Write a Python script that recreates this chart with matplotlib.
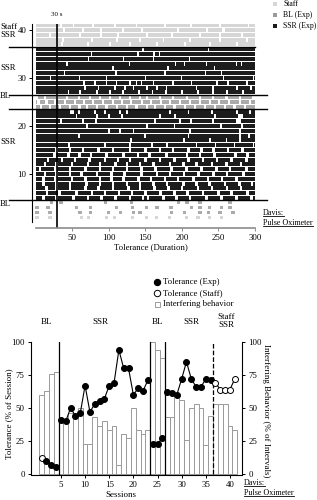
import matplotlib
matplotlib.use('Agg')
import matplotlib.pyplot as plt
from matplotlib.lines import Line2D
from matplotlib.patches import Rectangle

plt.rcParams['font.family'] = ['Liberation Serif', 'DejaVu Serif']
plt.rcParams['font.size'] = 6.3

# ---- data -------------------------------------------------------------
sessions = list(range(1, 42))
phase = ['staff'] + ['bl'] * 3 + ['ssr'] * 19 + ['bl'] * 3 + ['ssr'] * 10 + ['staff'] * 5

tolerance = [12, 10, 7, 5,
             41, 40, 50, 44, 46, 67, 47, 53, 55, 57, 67, 69, 94, 80, 80, 60, 65, 63, 71,
             23, 23, 27,
             62, 61, 60, 72, 85, 72, 66, 66, 72, 71,
             69, 64, 64, 64, 72]
interfering = [60, 63, 76, 77,
               40, 40, 46, 44, 50, 23, 23, 43, 36, 40, 33, 36, 7, 30, 27, 50, 33, 30, 33,
               100, 94, 88,
               43, 43, 58, 56, 26, 50, 53, 50, 22, 44,
               53, 53, 53, 36, 33]

# tolerance rasters: gap centres (s) in the full rows, default width per row
row_gaps = {
    5: [11, 29, 52, 72, 90, 109, 129, 147, 154, 175, 193, 211, 234, 254, 275, 295],
    6: [16, 33, 56, 77, 95, 114, 132, 150, 171, 190, 208, 229, 250, 268, 290],
    7: [15, 29, 47, 68, 86, 106, 127, 143, 163, 182, 200, 222, 241, 262, 281],
    8: [11, 29, 47, 70, 88, 106, 125, 143, 161, 180, 202, 220, 238, 259, 279, 296],
    9: [11, 27, 50, 68, 88, 104, 120, 141, 158, 177, 195, 216, 236, 255, 275],
    10: [13, 29, 47, 63, 84, 104, 122, 145, 166, 184, 203, 223, 243, 262, 284],
    11: [6, 27, 47, 68, 88, 106, 125, 145, 164, 186, 206, 227, 247, 266, 288],
    12: [13, 29, 50, 72, 88, 109, 125, 143, 161, 184, 202, 220, 241, 261, 281],
    13: [17, 36, 54, 74, 95, 113, 129, 150, 170, 190, 209, 229, 248, 268, 288],
    14: [26, 45, 60, 76, 97, 120, 140, 156, 179, 207, 225, 245, 273, 290],
    15: [29, 47, 65, 86, 106, 129, 150, 170, 188, 209, 227, 243, 263, 283],
    16: [46, 95, 129, 159, 180, 220, 246, 272, 298],
    17: [131, 203, 238, 261, 279],
    18: [60, 150, 209, 279, 292],
    19: [100, 115, 134, 211, 279],
    20: [70, 152, 190, 253, 282],
    21: [35, 65, 83, 163, 197, 213, 243, (278, 7)],
    22: [56, 84, 100, 118, 170, 191, 245, (280, 6)],
    23: [(50, 6), 59, 81, 95, 115, 125, 184, 209, 241, 275, 293],
    24: [8, 20, 33, 47, 60, 70, 84, 97, 111, 125, 138, 152, 163, 177, 190, 204, 218, 232, 245, 259, 272, 286],
    25: [4, 15, 27, 40, 54, 66, 79, 92, 106, 118, 131, 145, 158, 171, 184, 197, 211, 225, 238, 251, 265, 279, 293],
    26: [2, 13, 29, 43, 59, 74, 88, 102, 115, 129, 143, 152, 170, 188, 207, 225, 243, 261, 279, 298],
    27: [45, 61, 84, 102, 120, 141, 160, 178, 200, 222, 243, 262, 284],
    28: [68, 86, 109, 122, 134, 152, 166, 179, 220, 243, 275, 295],
    29: [66, 81, 97, 111, 129, 138, 145, 161, 188, 213, 248, 263, 289],
    30: [20, 60, 97, 150, 200, 257, 298],
    31: [40, 110, 177, 232, 254],
    32: [106, 181, 245],
    33: [43, 129, 191, 204, 234, 275, 282],
    34: [72, 120, 161, 210],
    35: [76, 140, 162, 170],
    36: [147, 236],
    37: [36, 72, 102, 129, 166, 204, 238, 275],
    38: [38, 77, 111, 143, 175, 211, 252, 289],
    39: [20, 61, 90, 113, 152, 186, 225, 252, 282],
    40: [39, 65, 90, 120, 145, 195, 234, 257],
    41: [35, 52, 79, 109, 138, 177, 213, 252, 291],
}
gap_width = {s: 3.5 for s in range(5, 16)}
gap_width.update({s: 2.5 for s in range(16, 24)})
gap_width.update({24: 3, 25: 3, 26: 3, 27: 2.5, 28: 2.5, 29: 2})
gap_width.update({s: 1.6 for s in range(30, 37)})
gap_width.update({37: 2.5, 38: 2.5, 39: 2.5, 40: 3, 41: 2.5})

# baseline rows: short tolerance bouts (centres, s)
bout_centres = {
    1: [2, 20, 63, 72, 97, 108, 133, 152, 165, 183, 206, 222, 238, 254],
    2: [2, 20, 61, 75, 100, 116, 134, 143, 186, 204, 225, 236, 252, 270],
    3: [2, 17, 56, 75, 111, 133, 152, 166, 185, 213, 225, 238, 254, 266],
    4: [22, 35, 96, 131, 195, 207, 225, 266],
}
bout_width = 4.5

colors = {'staff': '#d6d6d6', 'bl': '#ababab', 'ssr': '#1c1c1c'}

W, H = 317, 500


def fx(px):
    return px / W


def fy(py):
    return 1 - py / H


def segments_from_gaps(gaps, width, end=300):
    segs = []
    start = 0
    for g in gaps:
        c, w = g if isinstance(g, tuple) else (g, width)
        a, b = c - w / 2, c + w / 2
        if a > start:
            segs.append((start, a - start))
        start = max(start, b)
    if start < end:
        segs.append((start, end - start))
    return segs


fig = plt.figure(figsize=(W / 100, H / 100), dpi=100)

# ---- top: raster ------------------------------------------------------
ax1 = fig.add_axes([fx(32), fy(228), fx(255) - fx(32), fy(24) - fy(228)])
for s, ph in zip(sessions, phase):
    if s in bout_centres:
        segs = [(c - bout_width / 2, bout_width) for c in bout_centres[s]]
        ax1.broken_barh(segs, (s - 0.33, 0.66), facecolors=colors[ph], lw=0)
    else:
        segs = segments_from_gaps(row_gaps[s], gap_width[s])
        ax1.broken_barh(segs, (s - 0.42, 0.84), facecolors=colors[ph], lw=0)

ax1.axvline(30, color='black', lw=1.2)
ax1.set_xlim(-4.8, 300)
ax1.set_ylim(-1.25, 41.25)
for sp in ['top', 'right']:
    ax1.spines[sp].set_visible(False)
ax1.spines['left'].set_bounds(0, 41.25)
ax1.spines['left'].set_linewidth(0.8)
ax1.spines['bottom'].set_bounds(0, 300)
ax1.spines['bottom'].set_color('#8c8c8c')
ax1.spines['bottom'].set_linewidth(1.2)
ax1.set_xticks([50, 100, 150, 200, 250, 300])
ax1.set_yticks([10, 20, 30, 40])
ax1.tick_params(axis='x', colors='#8c8c8c', labelcolor='black', length=2.5, width=0.7, pad=2, labelsize=6.3)
ax1.tick_params(axis='y', length=2.5, width=0.7, pad=1.5, labelsize=6.3)

# phase change lines (top)
for v, xend in [(36.5, 255), (26.5, 267), (23.5, 267), (4.5, 267)]:
    yy = ax1.transData.transform((0, v))[1] / H
    fig.add_artist(Line2D([fx(9), fx(xend)], [yy, yy], color='black', lw=1.0))

fig.text(fx(57), fy(14), '30 s', ha='center', va='center', fontsize=5)
fig.text(fx(151), fy(247), 'Tolerance (Duration)', ha='center', va='center', fontsize=6.3)
for txt, y in [('Staff\nSSR', 31), ('SSR', 68), ('BL', 96), ('SSR', 142), ('BL', 204)]:
    fig.text(fx(0), fy(y), txt, ha='left', va='center', fontsize=6.2, linespacing=1.1)

for lab, col, y in [('Staff', colors['staff'], 4), ('BL (Exp)', '#9a9a9a', 15), ('SSR (Exp)', colors['ssr'], 26)]:
    fig.add_artist(Rectangle((fx(273), fy(y + 2)), 4 / W, 4 / H, facecolor=col, edgecolor='none'))
    fig.text(fx(283), fy(y), lab, ha='left', va='center', fontsize=5.6)

# ---- bottom: tolerance and interfering behavior -----------------------
ax2 = fig.add_axes([fx(31), fy(475), fx(242) - fx(31), fy(342) - fy(475)])
ax2.bar(sessions, interfering, width=1.0, facecolor='white', edgecolor='#9a9a9a', lw=0.7, zorder=1)

for xv, ls in [(4.5, '-'), (23.5, '-'), (26.5, '-'), (36.5, '--')]:
    ax2.plot([xv, xv], [0, 100], color='black', lw=0.9, ls=ls, zorder=2)

for a, b in [(0, 4), (4, 23), (23, 26), (26, 41)]:
    ax2.plot(sessions[a:b], tolerance[a:b], color='black', lw=0.8, zorder=3)
for s, t, ph in zip(sessions, tolerance, phase):
    face = 'white' if ph == 'staff' else 'black'
    ax2.plot(s, t, marker='o', ms=4.3, mfc=face, mec='black', mew=0.7, zorder=4)

ax2.set_xlim(-1.2, 42.5)
ax2.set_ylim(-0.76, 100)
ax2.set_xticks([5, 10, 15, 20, 25, 30, 35, 40])
ax2.set_yticks([0, 25, 50, 75, 100])
for sp in ['top', 'right']:
    ax2.spines[sp].set_visible(False)
ax2.spines['left'].set_bounds(0, 100)
for sp in ['left', 'bottom']:
    ax2.spines[sp].set_linewidth(0.8)
ax2.tick_params(length=2.5, width=0.7, pad=2, labelsize=6.3)

ax2r = ax2.twinx()
ax2r.set_ylim(-0.76, 100)
ax2r.set_yticks([0, 25, 50, 75, 100])
for sp in ['top', 'left', 'bottom']:
    ax2r.spines[sp].set_visible(False)
ax2r.spines['right'].set_bounds(0, 100)
ax2r.spines['right'].set_linewidth(0.8)
ax2r.tick_params(length=2.5, width=0.7, pad=2, labelsize=6.3)

fig.text(fx(9), fy(414), 'Tolerance (% of Session)', rotation=90, ha='center', va='center', fontsize=6.5)
fig.text(fx(266), fy(411), 'Interfering Behavior (% of Intervals)', rotation=270, ha='center', va='center', fontsize=6.5)
fig.text(fx(121), fy(495), 'Sessions', ha='center', va='center', fontsize=6.5)

for txt, x, y in [('BL', 46, 322), ('SSR', 100, 322), ('BL', 157, 322), ('SSR', 191, 322), ('Staff\nSSR', 226, 321)]:
    fig.text(fx(x), fy(y), txt, ha='center', va='center', fontsize=6.5, linespacing=1.1)

# legend (bottom)
fig.add_artist(Line2D([fx(157)], [fy(282)], marker='o', ms=4.3, mfc='black', mec='black', lw=0))
fig.add_artist(Line2D([fx(157)], [fy(293)], marker='o', ms=4.6, mfc='white', mec='black', mew=0.7, lw=0))
fig.add_artist(Rectangle((fx(154.5), fy(306.5)), 5 / W, 5 / H, facecolor='white', edgecolor='#8c8c8c', lw=0.6))
for lab, y in [('Tolerance (Exp)', 282), ('Tolerance (Staff)', 293), ('Interfering behavior', 304)]:
    fig.text(fx(163), fy(y), lab, ha='left', va='center', fontsize=6.3)

# underlined device notes
texts = []
for x, y1 in [(263, 213), (244, 483)]:
    t1 = fig.text(fx(x), fy(y1), 'Davis:', ha='left', va='center', fontsize=5.8)
    t2 = fig.text(fx(x), fy(y1 + 10), 'Pulse Oximeter', ha='left', va='center', fontsize=5.8)
    texts += [t1, t2]
fig.canvas.draw()
r = fig.canvas.get_renderer()
for t in texts:
    bb = t.get_window_extent(r).transformed(fig.transFigure.inverted())
    yline = bb.y0 + 0.2 / 100
    fig.add_artist(Line2D([bb.x0, bb.x1], [yline, yline], color='black', lw=0.6))

fig.savefig('out.png', dpi=100)
